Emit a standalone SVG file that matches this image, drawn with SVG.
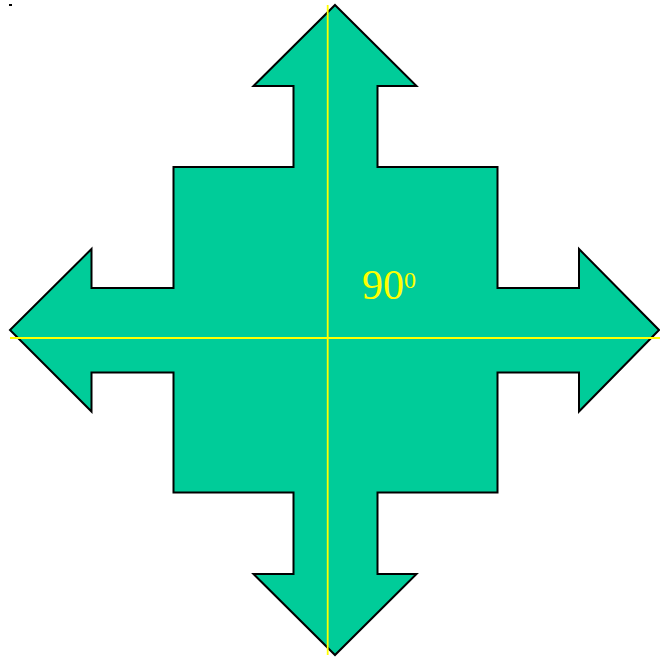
<svg xmlns="http://www.w3.org/2000/svg" width="660" height="657" viewBox="0 0 660 657">
<style>
.shape{fill:#00CC99;stroke:#000;stroke-width:2;stroke-linejoin:miter}
.axis{stroke:#FFFF00;stroke-width:1.8;fill:none}
.lbl{fill:#FFFF00;font-family:"Liberation Serif","Times New Roman",serif}
</style>
<rect width="660" height="657" fill="#fff"/>
<rect x="9" y="4" width="3" height="2" fill="#000"/>
<g id="cross">
<path class="shape" d="M335,5 L416.5,86 L377.5,86 L377.5,167 L497.5,167 L497.5,288 L579,288 L579,249 L659,330 L579,411.5 L579,372.5 L497.5,372.5 L497.5,492.5 L377.5,492.5 L377.5,574 L416.5,574 L335,655 L253.5,574 L293.5,574 L293.5,492.5 L173.5,492.5 L173.5,372.5 L91.5,372.5 L91.5,411.5 L10,330 L91.5,249 L91.5,288 L173.5,288 L173.5,167 L293.5,167 L293.5,86 L253.5,86 Z"/>
</g>
<g id="axes">
<line class="axis" x1="327.7" y1="5" x2="327.7" y2="655"/>
<line class="axis" x1="10" y1="338" x2="660" y2="338"/>
</g>
<g id="label">
<text class="lbl" x="362" y="299" font-size="42">90<tspan font-size="24" dy="-11">0</tspan></text>
</g>
</svg>
